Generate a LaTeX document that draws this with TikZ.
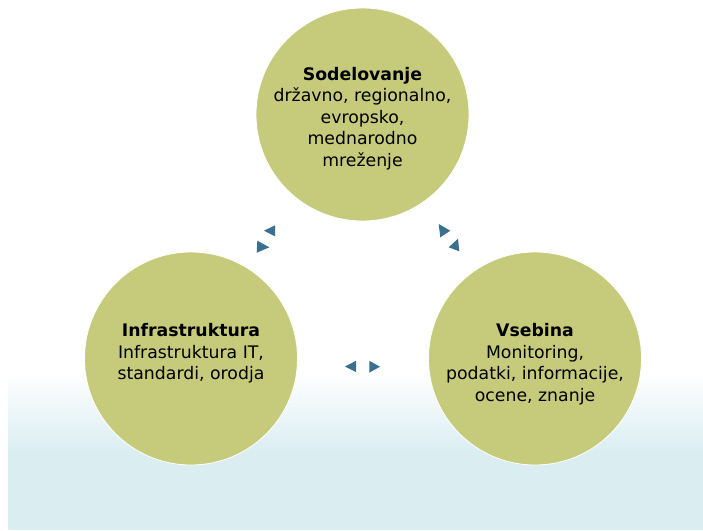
\documentclass[tikz,border=0pt]{standalone}
\usepackage{fontspec}
\setmainfont{DejaVu Sans}
\definecolor{circfill}{RGB}{197,203,122}
\definecolor{arrowcol}{RGB}{59,111,143}
\definecolor{bgcyan}{RGB}{218,238,242}
\tikzset{
  bubble/.style={circle, fill=circfill, draw=white, line width=0.8pt, minimum size=213pt, inner sep=0pt},
  btext/.style={align=center, text=black, inner sep=0pt, font=\fontsize{17.3}{21.5}\selectfont},
  tri/.style={fill=arrowcol}
}
\begin{document}
\begin{tikzpicture}[x=1pt,y=-1pt]
\useasboundingbox (0,0) rectangle (703,530);
\fill[white] (0,0) rectangle (703,530);
\shade[top color=white, bottom color=bgcyan] (8,372) rectangle (703,452);
\fill[bgcyan] (8,451.5) rectangle (703,530);

\node[bubble] (top) at (362.5,114.5) {};
\node[bubble] (left) at (191,358.5) {};
\node[bubble] (right) at (535,358.5) {};

\node[btext] (ttop) at (362.5,118.5) {\textbf{Sodelovanje}\\državno, regionalno,\\evropsko,\\mednarodno\\mreženje};
\node[btext] (tleft) at (191,353.5) {\textbf{Infrastruktura}\\Infrastruktura IT,\\standardi, orodja};
\node[btext] (tright) at (535,364) {\textbf{Vsebina}\\Monitoring,\\podatki, informacije,\\ocene, znanje};

\fill[tri] (264,230.7) -- (275,225.3) -- (275,236.3) -- cycle;
\fill[tri] (257.3,240.7) -- (256.7,252.7) -- (269.3,247.3) -- cycle;
\fill[tri] (438.7,224) -- (450.3,230.7) -- (440.3,237.3) -- cycle;
\fill[tri] (448.7,247.3) -- (458,238.7) -- (459.3,251.3) -- cycle;
\fill[tri] (345,366.5) -- (356,360.8) -- (356,372) -- cycle;
\fill[tri] (369.3,360.8) -- (369.3,372.6) -- (380,366.7) -- cycle;
\end{tikzpicture}
\end{document}
